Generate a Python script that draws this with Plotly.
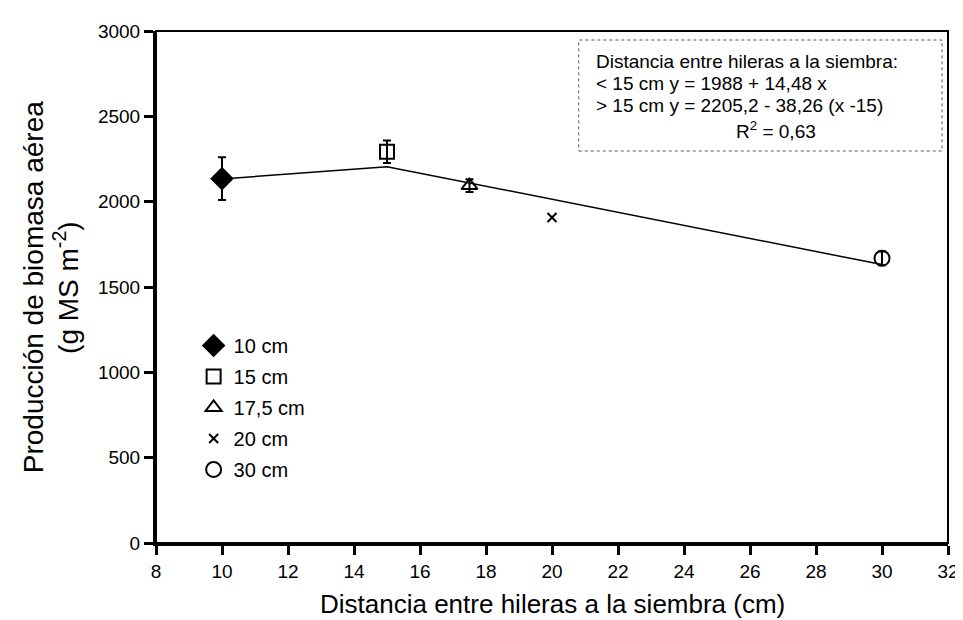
import plotly.graph_objects as go

# spacing treatments (cm) and measured aerial biomass (g MS m-2)
labels = ["10 cm", "15 cm", "17,5 cm", "20 cm", "30 cm"]
dist = [10, 15, 17.5, 20, 30]
biomass = [2135, 2293, 2094, 1907, 1668]
err = [125, 66, 37, 0, 40]
symbols = ["diamond", "square-open", "triangle-up-open", "x-thin-open", "circle-open"]
sizes = [16, 14, 14, 9, 15]

# fitted broken-line model
fit_x = [10, 15, 30]
fit_y = [2132.8, 2205.2, 1631.3]

eq_lines = [
    "Distancia entre hileras a la siembra:",
    "< 15 cm y = 1988 + 14,48 x",
    "> 15 cm y = 2205,2 - 38,26 (x -15)",
]
ytitle_lines = ["Producción de biomasa aérea", "(g MS m<sup>-2</sup>)"]

FONT = "Liberation Sans, Arial, sans-serif"


# plot area in pixels: x 148..948, y 23..535
def px(x):
    return (x - 148) / 800


def py(y):
    return (535 - y) / 512


fig = go.Figure()

fig.add_trace(go.Scatter(
    x=fit_x, y=fit_y, mode="lines",
    line=dict(color="black", width=1.5),
    showlegend=False, hoverinfo="skip",
))

for i in range(len(dist)):
    fig.add_trace(go.Scatter(
        x=[dist[i]], y=[biomass[i]], mode="markers", name=labels[i],
        legendgroup=labels[i],
        marker=dict(symbol=symbols[i], size=sizes[i], color="black",
                    line=dict(color="black", width=2)),
        error_y=dict(type="data", array=[err[i]], visible=err[i] > 0,
                     color="black", thickness=2, width=4),
    ))

# thin frame top/right, thick axes left/bottom
fig.add_shape(type="rect", xref="paper", yref="paper", x0=0, y0=0, x1=1, y1=1,
              line=dict(color="black", width=2), layer="below")

# equation box
fig.add_shape(type="rect", xref="paper", yref="paper",
              x0=px(575), x1=px(942), y0=py(143), y1=py(32),
              line=dict(color="#555555", width=1, dash="dot"))
for k, line in enumerate(eq_lines):
    fig.add_annotation(
        xref="paper", yref="paper", x=px(591), y=py(53 + 22 * k),
        xanchor="left", yanchor="middle", showarrow=False, text=line,
        borderpad=0, font=dict(family=FONT, size=19, color="black"),
    )
fig.add_annotation(
    xref="paper", yref="paper", x=px(733), y=py(122),
    xanchor="left", yanchor="middle", showarrow=False,
    text="R<sup>2</sup> = 0,63", borderpad=0,
    font=dict(family=FONT, size=19, color="black"),
)

# axis titles
for k, line in enumerate(ytitle_lines):
    fig.add_annotation(
        xref="paper", yref="paper", x=px(24 + 33 * k), y=py(279),
        xanchor="center", yanchor="middle", showarrow=False, textangle=-90,
        text=line, font=dict(family=FONT, size=28, color="black"),
    )
fig.add_annotation(
    xref="paper", yref="paper", x=px(548), y=py(596),
    xanchor="center", yanchor="middle", showarrow=False,
    text="Distancia entre hileras a la siembra (cm)",
    font=dict(family=FONT, size=26, color="black"),
)

fig.update_xaxes(
    range=[8, 32], dtick=2, tick0=8, showgrid=False, zeroline=False,
    showline=True, linecolor="black", linewidth=3,
    ticks="outside", ticklen=9, tickwidth=3, tickcolor="black",
    tickfont=dict(family=FONT, size=19, color="black"),
)
fig.update_yaxes(
    range=[0, 3000], dtick=500, showgrid=False, zeroline=False,
    showline=True, linecolor="black", linewidth=3,
    ticks="outside", ticklen=9, tickwidth=3, tickcolor="black",
    tickfont=dict(family=FONT, size=19, color="black"),
)

fig.update_layout(
    width=963, height=620,
    margin=dict(l=148, r=15, t=23, b=85),
    paper_bgcolor="white", plot_bgcolor="white",
    font=dict(family=FONT, color="black"),
    legend=dict(
        x=px(186), y=py(318),
        xanchor="left", yanchor="top",
        bgcolor="rgba(0,0,0,0)", tracegroupgap=2,
        font=dict(family=FONT, size=20, color="black"),
    ),
)

fig.write_html("out.html")
